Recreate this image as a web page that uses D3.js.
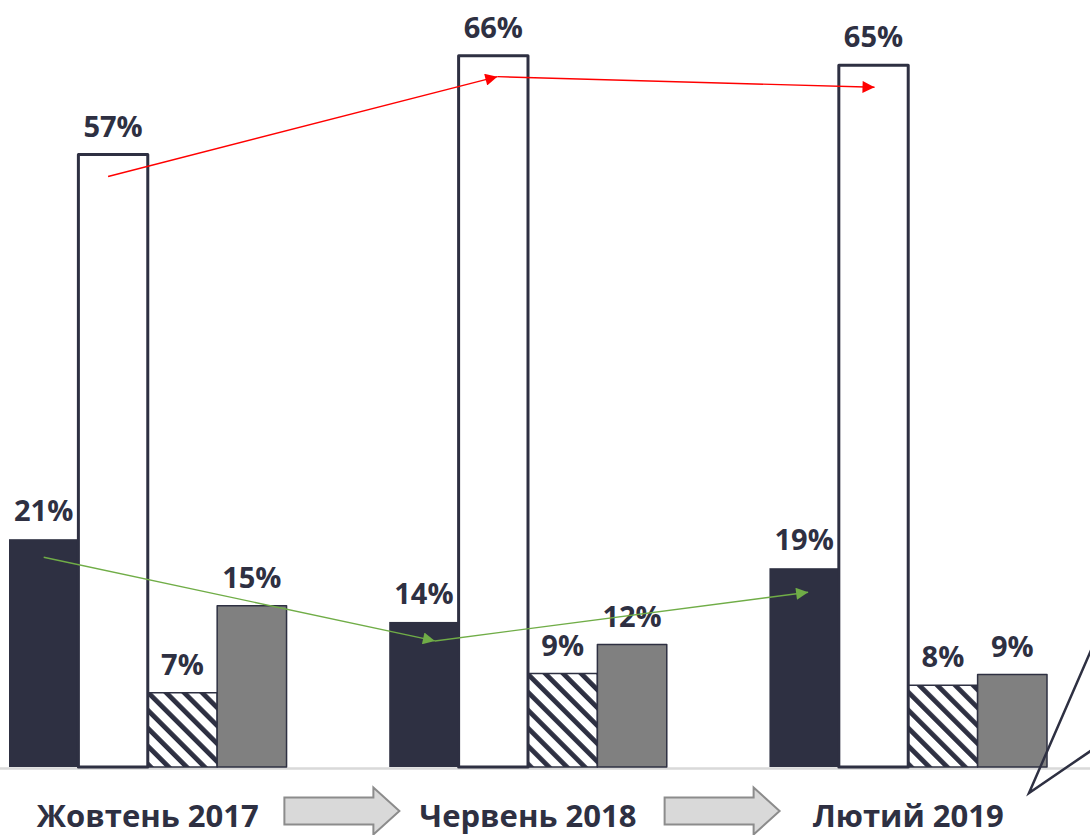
<!DOCTYPE html>
<html>
<head>
<meta charset="utf-8">
<script src="https://cdn.jsdelivr.net/npm/d3@7"></script>
<style>
  html, body { margin: 0; padding: 0; background: #fff; }
  svg { display: block; font-family: "Open Sans", "DejaVu Sans", sans-serif; }
</style>
</head>
<body>
<div id="chart"></div>
<script>
const periods = ["Жовтень 2017", "Червень 2018", "Лютий 2019"];
const seriesKeys = ["a", "b", "c", "d"];
// values (labels are the rounded figures shown)
const seriesA = [21.2, 13.5, 18.5];
const seriesB = [57.0, 66.2, 65.3];
const seriesC = [6.9, 8.7, 7.6];
const seriesD = [15.0, 11.4, 8.6];
const labelsA = ["21%", "14%", "19%"];
const labelsB = ["57%", "66%", "65%"];
const labelsC = ["7%", "9%", "8%"];
const labelsD = ["15%", "12%", "9%"];

const width = 1090, height = 835;
const baseY = 767;

const ink = "#2e3042";
const fills = { a: ink, b: "#ffffff", c: "url(#hatch)", d: "#808080" };

const rows = periods.map((p, i) => ({
  period: p,
  bars: [
    { key: "a", value: seriesA[i], label: labelsA[i] },
    { key: "b", value: seriesB[i], label: labelsB[i] },
    { key: "c", value: seriesC[i], label: labelsC[i] },
    { key: "d", value: seriesD[i], label: labelsD[i] }
  ]
}));

const svg = d3.select("#chart").append("svg")
  .attr("width", width).attr("height", height);

const defs = svg.append("defs");
const hatch = defs.append("pattern")
  .attr("id", "hatch")
  .attr("patternUnits", "userSpaceOnUse")
  .attr("width", 12.7).attr("height", 12.7)
  .attr("patternTransform", "rotate(-45)");
hatch.append("rect").attr("width", 12.7).attr("height", 12.7).attr("fill", "#fff");
hatch.append("rect").attr("width", 4.8).attr("height", 12.7).attr("fill", ink);

const arrowHead = (id, color) => {
  defs.append("marker")
    .attr("id", id)
    .attr("viewBox", "0 0 10 10")
    .attr("refX", 10).attr("refY", 5)
    .attr("markerUnits", "userSpaceOnUse")
    .attr("markerWidth", 15).attr("markerHeight", 12)
    .attr("orient", "auto")
    .append("path").attr("d", "M0,0L10,5L0,10Z").attr("fill", color);
};
arrowHead("redHead", "#ff0000");
arrowHead("greenHead", "#70ad47");

const x0 = d3.scaleBand().domain(periods).range([9, 1047]).paddingInner(0.27).paddingOuter(0);
const x1 = d3.scaleBand().domain(seriesKeys).range([0, x0.bandwidth()]);
const y = d3.scaleLinear().domain([0, 57]).range([baseY, 154.5]);

// baseline
svg.append("line")
  .attr("x1", 0).attr("x2", width)
  .attr("y1", baseY + 1.5).attr("y2", baseY + 1.5)
  .attr("stroke", "#d9d9d9").attr("stroke-width", 2.5);

const groups = svg.append("g").selectAll("g")
  .data(rows).join("g")
  .attr("transform", d => `translate(${x0(d.period)},0)`);

// draw white bars last so their outline sits on top
const order = ["a", "c", "d", "b"];
groups.selectAll("rect")
  .data(d => d.bars.slice().sort((p, q) => order.indexOf(p.key) - order.indexOf(q.key)))
  .join("rect")
  .attr("x", d => x1(d.key))
  .attr("y", d => y(d.value))
  .attr("width", x1.bandwidth())
  .attr("height", d => baseY - y(d.value))
  .attr("fill", d => fills[d.key])
  .attr("stroke", d => d.key === "a" ? "none" : ink)
  .attr("stroke-width", d => d.key === "b" ? 3 : 1.5)
  .attr("stroke-linejoin", "round");

groups.selectAll("text")
  .data(d => d.bars)
  .join("text")
  .attr("x", d => x1(d.key) + x1.bandwidth() / 2)
  .attr("y", d => y(d.value) - 18)
  .attr("text-anchor", "middle")
  .attr("font-size", 29)
  .attr("font-weight", 700)
  .attr("fill", ink)
  .text(d => d.label);

// trend arrows (offsets in px from the bar centre / top)
const redTrend = [{ i: 0, dx: -5, dy: 22 }, { i: 1, dx: 4, dy: 21 }, { i: 2, dx: 1, dy: 22 }];
const greenTrend = [{ i: 0, dx: 0, dy: 18 }, { i: 1, dx: 11, dy: 19 }, { i: 2, dx: 4, dy: 24 }];

const trendPt = (series, key, p) => [
  x0(periods[p.i]) + x1(key) + x1.bandwidth() / 2 + p.dx,
  y(series[p.i]) + p.dy
];

const drawTrend = (series, key, pts, color, head) => {
  for (let k = 0; k < pts.length - 1; k++) {
    const a = trendPt(series, key, pts[k]);
    const b = trendPt(series, key, pts[k + 1]);
    svg.append("line")
      .attr("x1", a[0]).attr("y1", a[1])
      .attr("x2", b[0]).attr("y2", b[1])
      .attr("stroke", color).attr("stroke-width", 1.4)
      .attr("marker-end", `url(#${head})`);
  }
};
drawTrend(seriesB, "b", redTrend, "#ff0000", "redHead");
drawTrend(seriesA, "a", greenTrend, "#70ad47", "greenHead");

// category labels
svg.append("g").selectAll("text")
  .data(periods).join("text")
  .attr("x", d => x0(d) + x0.bandwidth() / 2)
  .attr("y", 827)
  .attr("text-anchor", "middle")
  .attr("font-size", 31)
  .attr("font-weight", 700)
  .attr("fill", ink)
  .text(d => d);

// block arrows between the periods
const blockArrow = (cx, cy) => {
  const w = 115, h = 47, bh = 27, head = 26;
  const l = cx - w / 2, r = cx + w / 2;
  const pts = [
    [l, cy - bh / 2], [r - head, cy - bh / 2], [r - head, cy - h / 2], [r, cy],
    [r - head, cy + h / 2], [r - head, cy + bh / 2], [l, cy + bh / 2]
  ];
  svg.append("path")
    .attr("d", d3.line()(pts) + "Z")
    .attr("fill", "#d9d9d9")
    .attr("stroke", "#8c8c8c")
    .attr("stroke-width", 2);
};
for (let i = 0; i < periods.length - 1; i++) {
  const a = x0(periods[i]) + x0.bandwidth() / 2;
  const b = x0(periods[i + 1]) + x0.bandwidth() / 2;
  blockArrow((a + b) / 2 + 4, 811);
}

// callout pointer at the right edge
svg.append("path")
  .attr("d", d3.line()([[width + 2, 648], [1029, 793], [width + 2, 750]]))
  .attr("fill", "none")
  .attr("stroke", ink)
  .attr("stroke-width", 2.5);
</script>
</body>
</html>
